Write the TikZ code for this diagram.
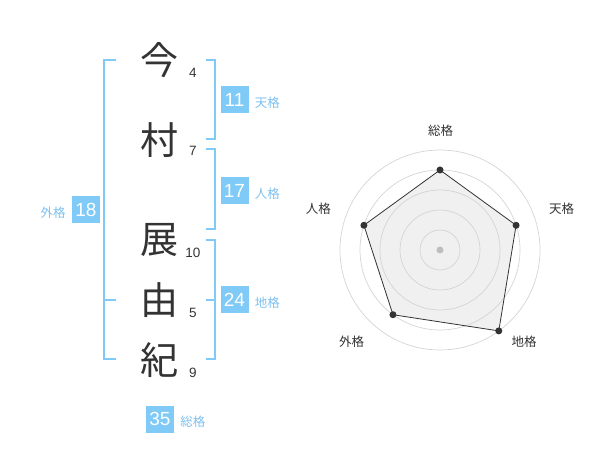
\documentclass[tikz,border=0pt]{standalone}
\usepackage{fontspec}
\setmainfont{Liberation Sans}
\newfontfamily\jpfont{Noto Sans CJK JP}
\usetikzlibrary{positioning}
\definecolor{kakublue}{RGB}{128,202,248}
\definecolor{kakutext}{RGB}{125,192,238}
\definecolor{inkgray}{RGB}{51,51,51}
\definecolor{ringgray}{RGB}{212,212,212}
\definecolor{areagray}{RGB}{240,240,240}
\definecolor{hubgray}{RGB}{190,190,190}
\begin{document}
\begin{tikzpicture}[x=1pt,y=-1pt,
	kanji/.style={font=\jpfont\fontsize{38}{38}\selectfont,text=inkgray,inner sep=0pt},
	strokes/.style={font=\fontsize{13.5}{14}\selectfont,text=inkgray,inner sep=0pt},
	kakubox/.style={fill=kakublue,text=white,font=\fontsize{19}{19}\selectfont,minimum width=28pt,minimum height=27pt,inner sep=0pt},
	kakuname/.style={font=\jpfont\fontsize{12.5}{13}\selectfont,text=kakutext,inner sep=0pt},
	bracket/.style={draw=kakublue,line width=2pt},
	ring/.style={draw=ringgray,line width=0.7pt},
	axisname/.style={font=\jpfont\fontsize{12.5}{13}\selectfont,text=inkgray,inner sep=0pt},
	vertex/.style={circle,fill=inkgray,inner sep=0pt,minimum size=7pt}]
	\useasboundingbox (0,0) rectangle (600,470);
	\node [kanji] (ima) at (159,60) {今};
	\node [kanji] (mura) at (159,140) {村};
	\node [kanji] (ten) at (159,240) {展};
	\node [kanji] (yu) at (159,300) {由};
	\node [kanji] (ki) at (159,360) {紀};
	\node [strokes] (ima-n) at ([xshift=34pt,yshift=-13pt]ima) {4};
	\node [strokes] (mura-n) at ([xshift=34pt,yshift=-11pt]mura) {7};
	\node [strokes] (ten-n) at ([xshift=34pt,yshift=-13pt]ten) {10};
	\node [strokes] (yu-n) at ([xshift=34pt,yshift=-13pt]yu) {5};
	\node [strokes] (ki-n) at ([xshift=34pt,yshift=-13pt]ki) {9};
	\draw [bracket] (116,60) -- (104,60) -- (104,359) -- (116,359);
	\draw [bracket] (104,300) -- (116,300);
	\draw [bracket] (206,60) -- (215,60) -- (215,139) -- (206,139);
	\draw [bracket] (206,149) -- (215,149) -- (215,229) -- (206,229);
	\draw [bracket] (206,240) -- (215,240) -- (215,359) -- (206,359);
	\draw [bracket] (206,300) -- (215,300);
	\node [kakubox] (tenkaku) at (234.5,100) {11};
	\node [kakuname, right=6pt of tenkaku, yshift=-3pt] (tenkaku-l) {天格};
	\node [kakubox] (jinkaku) at (234.5,191) {17};
	\node [kakuname, right=6pt of jinkaku, yshift=-3pt] (jinkaku-l) {人格};
	\node [kakubox] (chikaku) at (234.5,299.5) {24};
	\node [kakuname, right=6pt of chikaku, yshift=-3pt] (chikaku-l) {地格};
	\node [kakubox] (gaikaku) at (86,210) {18};
	\node [kakuname, left=6pt of gaikaku, yshift=-3pt] (gaikaku-l) {外格};
	\node [kakubox] (soukaku) at (160,419) {35};
	\node [kakuname, right=6pt of soukaku, yshift=-3pt] (soukaku-l) {総格};
	\coordinate (hub) at (440,250);
	\path [shift={(hub)}] (-90:80) coordinate (sou) (-18:80) coordinate (ten-p)
		(54:100) coordinate (chi) (126:80) coordinate (gai) (198:80) coordinate (jin);
	\fill [areagray] (sou) -- (ten-p) -- (chi) -- (gai) -- (jin) -- cycle;
	\foreach \r in {20,40,60,80,100}
		\draw [ring] (hub) circle [radius=\r pt];
	\fill [hubgray] (hub) circle [radius=3.5pt];
	\draw [inkgray, line width=0.8pt] (sou) -- (ten-p) -- (chi) -- (gai) -- (jin) -- cycle;
	\foreach \p in {sou,ten-p,chi,gai,jin}
		\node [vertex] at (\p) {};
	\node [axisname] (sou-l) at (440.7,130.7) {総格};
	\node [axisname] (ten-l) at (561.7,209) {天格};
	\node [axisname] (chi-l) at (524,342) {地格};
	\node [axisname] (gai-l) at (351.7,342) {外格};
	\node [axisname] (jin-l) at (318.3,209) {人格};
\end{tikzpicture}
\end{document}
